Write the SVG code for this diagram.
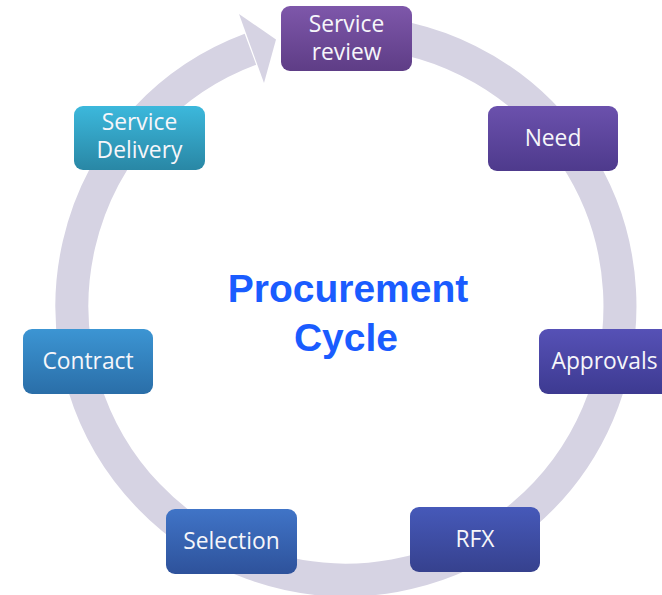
<svg xmlns="http://www.w3.org/2000/svg" width="662" height="595" viewBox="0 0 662 595">
<defs>
<linearGradient id="gSR" x1="0" y1="0" x2="0" y2="1"><stop offset="0" stop-color="#7e57aa"/><stop offset="1" stop-color="#5e3d86"/></linearGradient>
<linearGradient id="gNeed" x1="0" y1="0" x2="0" y2="1"><stop offset="0" stop-color="#6b51ad"/><stop offset="1" stop-color="#4e3a8c"/></linearGradient>
<linearGradient id="gApp" x1="0" y1="0" x2="0" y2="1"><stop offset="0" stop-color="#5651b6"/><stop offset="1" stop-color="#3d3a91"/></linearGradient>
<linearGradient id="gRFX" x1="0" y1="0" x2="0" y2="1"><stop offset="0" stop-color="#4659b9"/><stop offset="1" stop-color="#36418e"/></linearGradient>
<linearGradient id="gSel" x1="0" y1="0" x2="0" y2="1"><stop offset="0" stop-color="#4074c7"/><stop offset="1" stop-color="#2e529b"/></linearGradient>
<linearGradient id="gCon" x1="0" y1="0" x2="0" y2="1"><stop offset="0" stop-color="#3c95d3"/><stop offset="1" stop-color="#2a6ea8"/></linearGradient>
<linearGradient id="gSD" x1="0" y1="0" x2="0" y2="1"><stop offset="0" stop-color="#3cb8dc"/><stop offset="1" stop-color="#2987a5"/></linearGradient>
</defs>
<style>
.box{stroke:none}
.lbl{font-family:"Open Sans","Liberation Sans",sans-serif;font-size:22.8px;fill:#f6f6fa;text-anchor:middle}
.ttl{font-family:"Liberation Sans",Arial,sans-serif;font-size:39px;font-weight:bold;fill:#1a5cff;text-anchor:middle}
.ring{fill:none;stroke:#d6d3e3;stroke-width:33}
</style>
<rect width="662" height="595" fill="#ffffff"/>
<g id="connectors">
<path class="ring" d="M 346 32 A 274 274 0 1 1 250.4 49.2"/>
<polygon points="239,14 276,39.5 264,83" fill="#d6d3e3"/>
</g>
<g id="title">
<text class="ttl" x="348" y="302">Procurement</text>
<text class="ttl" x="346" y="351">Cycle</text>
</g>
<g id="service-review">
<rect class="box" x="281" y="6" width="131" height="65" rx="9" fill="url(#gSR)"/>
<text class="lbl" x="346.5" y="32">Service</text>
<text class="lbl" x="346.5" y="60">review</text>
</g>
<g id="need">
<rect class="box" x="488" y="106" width="130" height="65" rx="9" fill="url(#gNeed)"/>
<text class="lbl" x="553" y="146">Need</text>
</g>
<g id="approvals">
<rect class="box" x="539" y="329" width="131" height="65" rx="9" fill="url(#gApp)"/>
<text class="lbl" x="604.5" y="369">Approvals</text>
</g>
<g id="rfx">
<rect class="box" x="410" y="507" width="130" height="65" rx="9" fill="url(#gRFX)"/>
<text class="lbl" x="475" y="547">RFX</text>
</g>
<g id="selection">
<rect class="box" x="166" y="509" width="131" height="65" rx="9" fill="url(#gSel)"/>
<text class="lbl" x="231.5" y="549">Selection</text>
</g>
<g id="contract">
<rect class="box" x="23" y="329" width="130" height="65" rx="9" fill="url(#gCon)"/>
<text class="lbl" x="88" y="369">Contract</text>
</g>
<g id="service-delivery">
<rect class="box" x="74" y="106" width="131" height="64" rx="9" fill="url(#gSD)"/>
<text class="lbl" x="139.5" y="130">Service</text>
<text class="lbl" x="139.5" y="158">Delivery</text>
</g>
</svg>
